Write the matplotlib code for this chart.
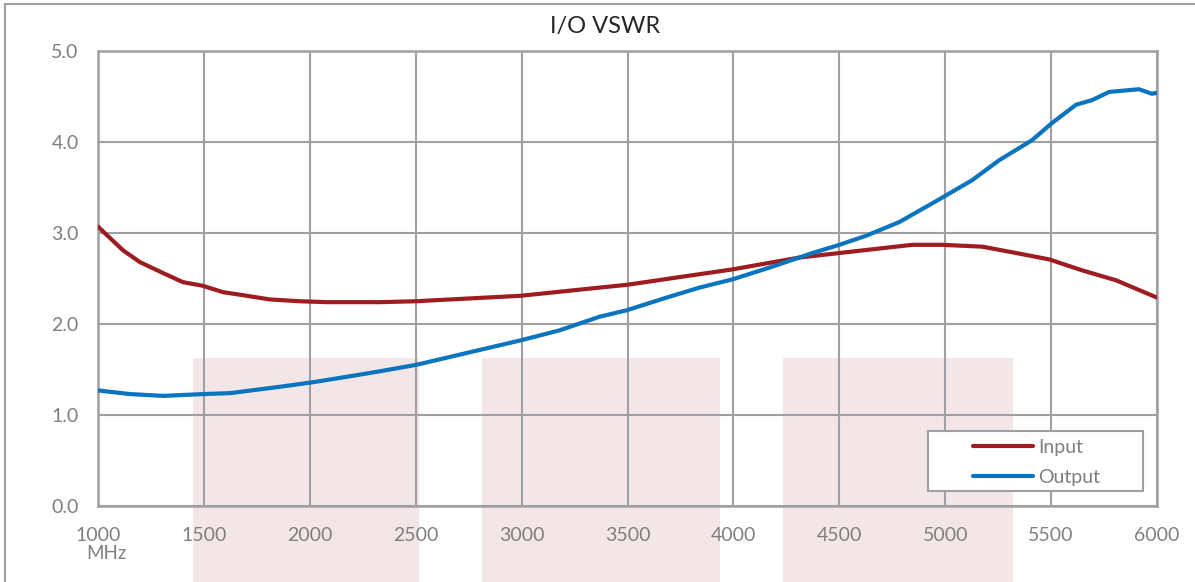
import matplotlib
matplotlib.use('Agg')
import matplotlib.pyplot as plt
from matplotlib.patches import Rectangle
from matplotlib.lines import Line2D

# frequency (MHz) and VSWR values
input_freq = [1000, 1118, 1198, 1307, 1401, 1495, 1590, 1703, 1811, 1953, 2080, 2330,
              2500, 2995, 3368, 3495, 3995, 4311, 4500, 4844, 4986, 5175, 5335, 5491,
              5646, 5807, 6000]
input_vswr = [3.07, 2.81, 2.68, 2.56, 2.46, 2.42, 2.35, 2.31, 2.27, 2.25, 2.24, 2.24,
              2.25, 2.31, 2.40, 2.43, 2.60, 2.73, 2.78, 2.87, 2.87, 2.85, 2.78, 2.71,
              2.59, 2.48, 2.29]

output_freq = [1000, 1151, 1307, 1495, 1623, 1858, 2014, 2175, 2330, 2500, 2995, 3179,
               3368, 3495, 3684, 3840, 3995, 4184, 4373, 4500, 4627, 4783, 4972, 5127,
               5255, 5410, 5505, 5618, 5693, 5774, 5915, 5976, 6000]
output_vswr = [1.27, 1.23, 1.21, 1.23, 1.24, 1.31, 1.36, 1.42, 1.48, 1.55, 1.82, 1.93,
               2.08, 2.15, 2.29, 2.40, 2.49, 2.63, 2.78, 2.87, 2.97, 3.12, 3.37, 3.58,
               3.80, 4.02, 4.21, 4.41, 4.46, 4.55, 4.58, 4.53, 4.54]

# shaded frequency bands (start, end) and their top level
band_edges = [(1448, 2516), (2813, 3937), (4234, 5320)]
band_top = 1.63

x_ticks = [1000, 1500, 2000, 2500, 3000, 3500, 4000, 4500, 5000, 5500, 6000]
y_ticks = [0.0, 1.0, 2.0, 3.0, 4.0, 5.0]

grid_color = '#a0a0a4'
text_color = '#7f7f7f'
red = '#9e1c20'
blue = '#0a74bf'
pink = '#f3e6e6'

plt.rcParams['font.family'] = ['Lato', 'DejaVu Sans']

fig = plt.figure(figsize=(11.95, 5.82), dpi=100)
ax = fig.add_axes([98 / 1195, 76 / 582, 1059 / 1195, 455 / 582])
ax.set_facecolor('none')

# pink band highlights, extending below the plot area
for start, end in band_edges:
    ax.add_patch(Rectangle((start, -1.5), end - start, band_top + 1.5,
                           facecolor=pink, edgecolor='none', zorder=0.2, clip_on=False))

ax.plot(input_freq, input_vswr, color=red, lw=3, label='Input', zorder=3,
        solid_capstyle='round')
ax.plot(output_freq, output_vswr, color=blue, lw=3, label='Output', zorder=3,
        solid_capstyle='round')

ax.set_xlim(1000, 6000)
ax.set_ylim(0, 5)
ax.set_xticks(x_ticks)
ax.set_yticks(y_ticks)
ax.set_xticklabels([str(t) for t in x_ticks])
ax.set_yticklabels(['%.1f' % t for t in y_ticks])
ax.tick_params(axis='both', length=0, labelsize=14, colors=text_color)
ax.tick_params(axis='x', pad=15)
ax.tick_params(axis='y', pad=14)

ax.set_axisbelow(True)
ax.grid(True, color=grid_color, lw=1.5)
for sp in ax.spines.values():
    sp.set_color(grid_color)
    sp.set_linewidth(1.8)

fig.text(605 / 1195, 1 - 26 / 582, 'I/O VSWR', ha='center', va='center',
         fontsize=17, color='#262626')
ax.text(1000 + 8 / 212 * 1000, -0.43, 'MHz', ha='center', va='top', fontsize=13.5,
        color=text_color)

# legend box and contents
ax.add_patch(Rectangle((0.784, 0.033), 0.203, 0.132, transform=ax.transAxes,
                       facecolor='white', edgecolor=grid_color, lw=1.5, zorder=4))
leg = ax.legend(loc='upper left', bbox_to_anchor=(0.826, 0.147), frameon=False,
                fontsize=14, handlelength=3.1, handletextpad=0.25, borderpad=0,
                borderaxespad=0, labelspacing=0.65, labelcolor=text_color)
leg.set_zorder(5)

# outer chart border (top and left)
fig.add_artist(Line2D([5 / 1195, 1], [1 - 4 / 582, 1 - 4 / 582], color=grid_color, lw=1.5))
fig.add_artist(Line2D([5 / 1195, 5 / 1195], [0, 1 - 4 / 582], color=grid_color, lw=1.5))

fig.savefig('out.png', dpi=100, facecolor='white')
